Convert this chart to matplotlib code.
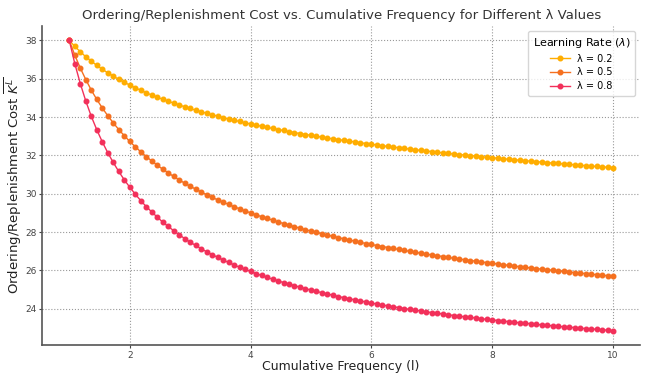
import matplotlib
matplotlib.use("Agg")
import matplotlib.pyplot as plt
import numpy as np

# cumulative frequency grid (100 evenly spaced samples from 1 to 10)
frequency = np.linspace(1, 10, 100)

lambda_labels = ["λ = 0.2", "λ = 0.5", "λ = 0.8"]

cost_lambda_02 = [
    38.00, 37.69, 37.41, 37.15, 36.92, 36.70, 36.50, 36.31, 36.14, 35.97,
    35.82, 35.67, 35.53, 35.40, 35.27, 35.15, 35.04, 34.93, 34.83, 34.73,
    34.63, 34.54, 34.45, 34.36, 34.28, 34.20, 34.12, 34.05, 33.97, 33.90,
    33.84, 33.77, 33.70, 33.64, 33.58, 33.52, 33.46, 33.41, 33.35, 33.30,
    33.24, 33.19, 33.14, 33.09, 33.05, 33.00, 32.95, 32.91, 32.86, 32.82,
    32.78, 32.74, 32.70, 32.66, 32.62, 32.58, 32.54, 32.50, 32.47, 32.43,
    32.40, 32.36, 32.33, 32.29, 32.26, 32.23, 32.20, 32.17, 32.13, 32.10,
    32.07, 32.04, 32.02, 31.99, 31.96, 31.93, 31.90, 31.88, 31.85, 31.82,
    31.80, 31.77, 31.75, 31.72, 31.70, 31.67, 31.65, 31.62, 31.60, 31.58,
    31.55, 31.53, 31.51, 31.49, 31.46, 31.44, 31.42, 31.40, 31.38, 31.36,
]

cost_lambda_05 = [
    38.00, 37.23, 36.56, 35.96, 35.41, 34.92, 34.48, 34.07, 33.70, 33.35,
    33.03, 32.73, 32.45, 32.19, 31.94, 31.71, 31.49, 31.28, 31.09, 30.90,
    30.72, 30.55, 30.39, 30.24, 30.09, 29.95, 29.81, 29.68, 29.56, 29.44,
    29.32, 29.21, 29.10, 29.00, 28.90, 28.80, 28.71, 28.62, 28.53, 28.44,
    28.36, 28.28, 28.20, 28.12, 28.05, 27.98, 27.91, 27.84, 27.77, 27.71,
    27.64, 27.58, 27.52, 27.46, 27.40, 27.35, 27.29, 27.24, 27.19, 27.14,
    27.09, 27.04, 26.99, 26.94, 26.89, 26.85, 26.80, 26.76, 26.72, 26.67,
    26.63, 26.59, 26.55, 26.51, 26.48, 26.44, 26.40, 26.36, 26.33, 26.29,
    26.26, 26.22, 26.19, 26.16, 26.12, 26.09, 26.06, 26.03, 26.00, 25.97,
    25.94, 25.91, 25.88, 25.85, 25.83, 25.80, 25.77, 25.74, 25.72, 25.69,
]

cost_lambda_08 = [
    38.00, 36.79, 35.75, 34.84, 34.04, 33.34, 32.71, 32.14, 31.63, 31.16,
    30.73, 30.34, 29.98, 29.64, 29.33, 29.05, 28.78, 28.52, 28.29, 28.07,
    27.86, 27.66, 27.47, 27.30, 27.13, 26.97, 26.82, 26.68, 26.54, 26.41,
    26.28, 26.16, 26.05, 25.94, 25.83, 25.73, 25.63, 25.54, 25.45, 25.36,
    25.28, 25.20, 25.12, 25.04, 24.97, 24.90, 24.83, 24.76, 24.70, 24.63,
    24.57, 24.51, 24.46, 24.40, 24.35, 24.29, 24.24, 24.19, 24.14, 24.10,
    24.05, 24.00, 23.96, 23.92, 23.88, 23.83, 23.79, 23.76, 23.72, 23.68,
    23.64, 23.61, 23.57, 23.54, 23.51, 23.47, 23.44, 23.41, 23.38, 23.35,
    23.32, 23.29, 23.26, 23.24, 23.21, 23.18, 23.15, 23.13, 23.10, 23.08,
    23.05, 23.03, 23.01, 22.98, 22.96, 22.94, 22.92, 22.90, 22.87, 22.85,
]

series = [cost_lambda_02, cost_lambda_05, cost_lambda_08]
colors = ["#FFAD00", "#F5701F", "#F2305A"]

fig = plt.figure(figsize=(6.48, 3.76), dpi=100)
ax = fig.add_axes([0.065, 0.082, 0.923, 0.849])

for values, label, color in zip(series, lambda_labels, colors):
    ax.plot(
        frequency, values, color=color, marker="o", markersize=3.3,
        linewidth=1.0, label=label,
    )

ax.set_title(
    "Ordering/Replenishment Cost vs. Cumulative Frequency for Different λ Values",
    fontsize=9.5, color="#333333", pad=5,
)
ax.set_xlabel("Cumulative Frequency (l)", fontsize=9, color="#222222", labelpad=0.5)
ax.set_ylabel(r"Ordering/Replenishment Cost $\overline{K^L}$",
              fontsize=9.5, color="#222222", labelpad=1)

ax.set_xticks([2, 4, 6, 8, 10])
ax.set_yticks([24, 26, 28, 30, 32, 34, 36, 38])
ax.tick_params(axis="both", labelsize=6.5, colors="#444444",
               length=2.5, width=0.8, pad=1.5)

ax.grid(True, linestyle=":", color="#999999", linewidth=0.8)
for side in ["top", "right"]:
    ax.spines[side].set_visible(False)
for side in ["left", "bottom"]:
    ax.spines[side].set_color("#555555")
    ax.spines[side].set_linewidth(1.2)

leg = ax.legend(
    title=r"Learning Rate ($\lambda$)", loc="upper right", fontsize=7,
    title_fontsize=8, frameon=True, fancybox=True, borderpad=0.5,
    handlelength=2.0, labelspacing=0.4, bbox_to_anchor=(1.0, 1.0),
)
leg.get_frame().set_edgecolor("#cccccc")

fig.savefig("out.png", dpi=100)
